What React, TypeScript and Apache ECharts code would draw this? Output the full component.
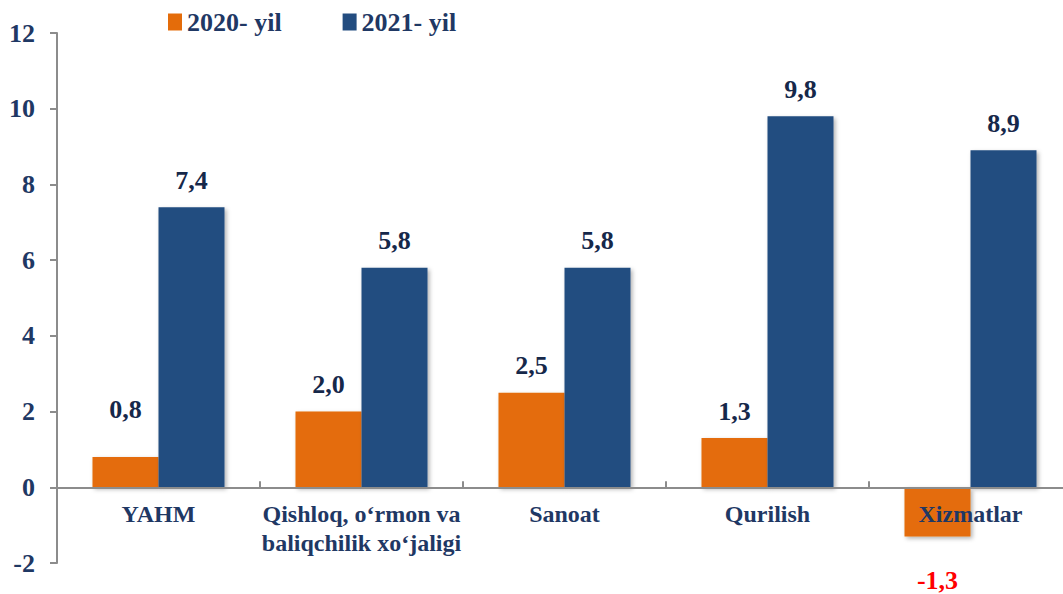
import React, { useEffect, useRef } from "react";
import * as echarts from "echarts";

const categories = [
  "YAHM",
  "Qishloq, o‘rmon va\nbaliqchilik xo‘jaligi",
  "Sanoat",
  "Qurilish",
  "Xizmatlar",
];
const seriesNames = ["2020- yil", "2021- yil"];
const values2020 = [0.8, 2.0, 2.5, 1.3, -1.3];
const values2021 = [7.4, 5.8, 5.8, 9.8, 8.9];
const yTicks = { min: -2, max: 12, interval: 2 };

const FONT = "Liberation Serif";
const NAVY = "#1F3864";
const LABEL = "#16284A";
const ORANGE = "#E46C0A";
const BLUE = "#234D80";
const AXIS = "#8C8C8C";

const fmt = (v: number) => v.toFixed(1).replace(".", ",");

export default function App() {
  const ref = useRef<HTMLDivElement>(null);
  useEffect(() => {
    if (!ref.current) return;
    const chart = echarts.init(ref.current, undefined, { renderer: "svg" });
    const gridTop = 33;
    const gridHeight = 530;
    // pixel offset that brings the category axis up to the zero line
    const zeroOffset =
      -gridHeight * ((0 - yTicks.min) / (yTicks.max - yTicks.min));
    const shadow = {
      shadowBlur: 4,
      shadowOffsetX: 2,
      shadowOffsetY: 2,
      shadowColor: "rgba(0,0,0,0.3)",
    };
    const baseLabel = {
      show: true,
      position: "top",
      distance: 14,
      fontFamily: FONT,
      fontWeight: "bold",
      fontSize: 26,
      color: LABEL,
      formatter: (p: any) => fmt(p.value),
    };
    const data2020 = values2020.map((v, i) => {
      if (v < 0) {
        return {
          value: v,
          label: { position: "bottom", distance: 31, color: "#FF0000" },
        };
      }
      if (i === 0) {
        return { value: v, label: { offset: [0, -21] } };
      }
      return v;
    });
    chart.setOption({
      animation: false,
      textStyle: { fontFamily: FONT },
      legend: {
        left: 163,
        top: 4,
        icon: "rect",
        itemWidth: 14,
        itemHeight: 17,
        itemGap: 61,
        textStyle: {
          fontFamily: FONT,
          fontWeight: "bold",
          fontSize: 26,
          color: NAVY,
          lineHeight: 26,
        },
        data: seriesNames,
      },
      grid: {
        left: 57,
        top: gridTop,
        width: 1015,
        height: gridHeight,
        containLabel: false,
        outerBoundsMode: "none",
      },
      xAxis: {
        type: "category",
        data: categories,
        z: 5,
        offset: zeroOffset,
        axisLine: { onZero: false, lineStyle: { color: AXIS, width: 2 } },
        axisTick: { show: true, inside: true, length: 6, lineStyle: { color: AXIS, width: 2 } },
        axisLabel: {
          interval: 0,
          margin: 12,
          fontFamily: FONT,
          fontWeight: "bold",
          fontSize: 24,
          lineHeight: 29,
          color: NAVY,
        },
      },
      yAxis: {
        type: "value",
        min: yTicks.min,
        max: yTicks.max,
        interval: yTicks.interval,
        splitLine: { show: false },
        axisLine: { show: true, lineStyle: { color: AXIS, width: 2 } },
        axisTick: { show: true, length: 7, lineStyle: { color: AXIS, width: 2 } },
        axisLabel: {
          margin: 22,
          fontFamily: FONT,
          fontWeight: "bold",
          fontSize: 26,
          color: NAVY,
        },
      },
      series: [
        {
          name: seriesNames[0],
          type: "bar",
          barWidth: 66,
          barGap: "0%",
          itemStyle: { color: ORANGE, ...shadow },
          label: baseLabel,
          data: data2020,
        },
        {
          name: seriesNames[1],
          type: "bar",
          barWidth: 66,
          barGap: "0%",
          itemStyle: { color: BLUE, ...shadow },
          label: baseLabel,
          data: values2021,
        },
      ],
    });
    return () => chart.dispose();
  }, []);
  return (
    <div
      ref={ref}
      style={{ position: "fixed", left: 0, top: 0, width: 1063, height: 594, background: "#fff" }}
    />
  );
}
